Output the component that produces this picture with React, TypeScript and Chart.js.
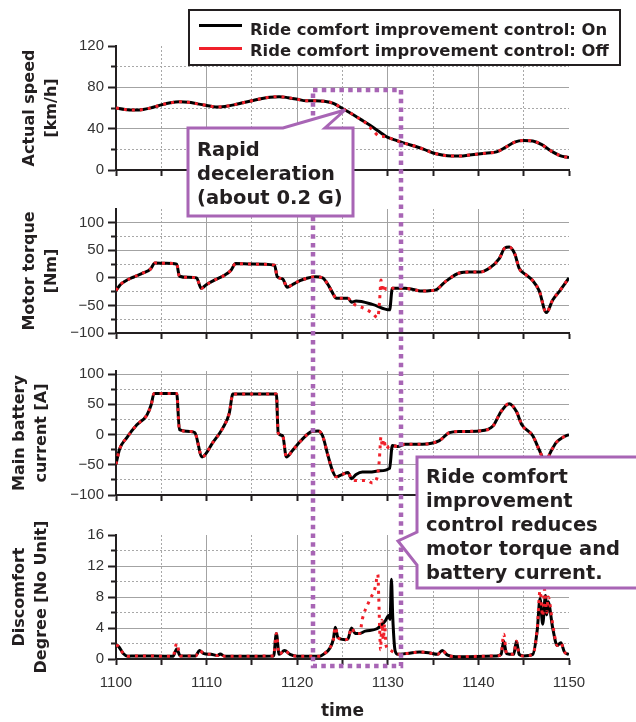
import React, { useEffect, useRef } from 'react';
import { Chart, registerables } from 'chart.js';

Chart.register(...registerables);

// ---------- axis ticks ----------
const xMajorTicks = [1100, 1110, 1120, 1130, 1140, 1150];
const xMinorTicks = [1105, 1115, 1125, 1135, 1145];

const speedTicks = [0, 40, 80, 120];
const speedMinorTicks = [20, 60, 100];
const torqueTicks = [-100, -50, 0, 50, 100];
const torqueMinorTicks = [-75, -25, 25, 75];
const batteryTicks = [-100, -50, 0, 50, 100];
const batteryMinorTicks = [-75, -25, 25, 75];
const discTicks = [0, 4, 8, 12, 16];
const discMinorTicks = [2, 6, 10, 14];

// ---------- Actual speed [km/h] ----------
const speedT = [1100, 1101, 1102, 1103, 1104, 1105, 1106, 1107, 1108, 1109, 1110, 1111, 1112, 1113, 1114, 1115, 1116, 1117, 1118, 1119, 1120, 1121, 1122, 1123, 1124, 1125, 1126, 1127, 1128, 1129, 1130, 1131, 1132, 1133, 1134, 1135, 1136, 1137, 1138, 1139, 1140, 1141, 1142, 1143, 1144, 1145, 1146, 1147, 1148, 1149, 1150];
const speedOn = [60, 58.5, 58, 58.5, 60.5, 63, 65, 66, 65.5, 64, 62.5, 61, 61.5, 63, 65, 67, 69, 70.5, 71, 70, 68.5, 67, 67, 66.5, 64.5, 59.5, 54.5, 49, 43.5, 37.5, 31.5, 28.5, 25.5, 23, 20, 16.5, 14.5, 13.5, 13.5, 14.5, 15.5, 16.5, 17.5, 22, 27, 28.5, 28, 24.5, 18.5, 14, 12];
const speedOffT = [1127.5, 1128, 1128.5, 1129, 1129.5];
const speedOffV = [46, 41.5, 37, 33, 32.5];

// ---------- Motor torque [Nm] ----------
const torqueT = [1100, 1100.5, 1101, 1102, 1103, 1103.8, 1104.3, 1105.5, 1106.7, 1107, 1108, 1108.9, 1109.4, 1110, 1111, 1112, 1112.7, 1113.2, 1115, 1117.5, 1117.8, 1118.4, 1118.9, 1119.5, 1120.3, 1121, 1122, 1122.8, 1123.5, 1124, 1124.3, 1125.6, 1126, 1126.5, 1128.3, 1130.2, 1130.5, 1131.9, 1132.8, 1133.8, 1134.8, 1135.4, 1136, 1136.5, 1137.9, 1139, 1140.1, 1141.2, 1142.3, 1142.9, 1143.4, 1144, 1144.5, 1145.3, 1146, 1146.7, 1147.5, 1148.2, 1149, 1150];
const torqueOn = [-23, -12, -6, 2, 9, 16, 27, 26.5, 25, 3, 1, 0, -19, -12, -3, 5, 14, 26, 25, 23, 2, -2, -17, -12, -5, -1, 2, 0, -15, -30, -37, -37, -44, -42, -48, -58, -19, -19, -21, -24, -23, -21, -12, -5, 9, 10.5, 10.5, 17.5, 35, 54, 56, 44, 17.5, 5, -5, -23, -63, -40, -23, 0];
const torqueOffT = [1126.4, 1127.2, 1128.2, 1128.9, 1129.1, 1129.25, 1129.4, 1129.55, 1129.8, 1130.3];
const torqueOffV = [-49, -54, -63, -72, -40, -4, -25, -12, -21, -20];

// ---------- Main battery current [A] ----------
const batT = [1100, 1100.4, 1101.2, 1102.3, 1103.4, 1103.9, 1104.2, 1106.7, 1107, 1108.2, 1108.7, 1109.5, 1110.7, 1111.8, 1112.5, 1112.9, 1117.7, 1117.9, 1118.4, 1118.8, 1119.5, 1120.3, 1121.1, 1121.6, 1122.3, 1122.8, 1123.4, 1123.9, 1124.3, 1125, 1125.6, 1126, 1126.5, 1127.2, 1128, 1129.1, 1130.2, 1130.5, 1131.1, 1131.9, 1133.8, 1135.7, 1136.8, 1138, 1140.1, 1141.6, 1142.5, 1143.4, 1144.2, 1144.8, 1146, 1146.7, 1147.4, 1148, 1148.6, 1149.3, 1150];
const batOn = [-49, -24, -5, 16, 32, 50, 68, 68, 8, 5, 3, -37, -13, 11, 35, 67, 67, 3, -2, -37, -26, -12, 0, 5, 6, -2, -35, -60, -70, -66, -63, -73, -66, -62, -62, -60, -56, -18, -20, -16, -16, -10, 3, 5, 6, 14, 38, 51, 38, 16, -2, -25, -45, -28, -13, -5, 0];
const batOffT = [1126.5, 1127.7, 1128.3, 1128.8, 1129.05, 1129.25, 1129.4, 1129.55, 1129.8, 1130.1, 1130.3];
const batOffV = [-76, -76, -80, -72, -45, -4, -20, -8, -24, -20, -19];

// ---------- Discomfort Degree ----------
const discT = [1100, 1100.3, 1100.8, 1101.3, 1102, 1106.3, 1106.7, 1107.1, 1108.8, 1109.2, 1109.7, 1110.5, 1111.2, 1111.5, 1112, 1117.4, 1117.7, 1118, 1118.6, 1119.2, 1120, 1122.5, 1123, 1123.6, 1124, 1124.2, 1124.5, 1125.3, 1125.6, 1126, 1126.4, 1126.9, 1127.5, 1128.8, 1129.7, 1130.1, 1130.25, 1130.4, 1130.55, 1130.8, 1131.1, 1132, 1133.5, 1134.5, 1135.5, 1136, 1136.6, 1137.5, 1142, 1142.5, 1142.8, 1143.1, 1143.9, 1144.2, 1144.5, 1145, 1146, 1146.5, 1146.8, 1147.1, 1147.4, 1147.55, 1147.7, 1148.2, 1148.7, 1149.1, 1149.5, 1150];
const discOn = [1.8, 1.6, 0.7, 0.35, 0.4, 0.35, 1.3, 0.4, 0.4, 1.1, 0.7, 0.6, 0.45, 0.65, 0.35, 0.4, 3.3, 0.6, 1.1, 0.6, 0.35, 0.35, 0.7, 1.4, 2.6, 4.1, 2.75, 2.5, 2.6, 4, 3.3, 3.3, 3.6, 3.9, 4.9, 5.6, 5.1, 10.3, 5.3, 1.1, 0.6, 0.7, 0.9, 0.8, 0.6, 1.1, 0.5, 0.3, 0.4, 0.6, 2.3, 0.7, 0.6, 2.3, 0.6, 0.4, 0.6, 3.8, 7.8, 4.5, 8.2, 5.7, 7.4, 4, 1.75, 2.1, 0.9, 0.6];
const discOffT1 = [1106.3, 1106.7, 1107.1];
const discOffV1 = [0.35, 2.0, 0.4];
const discOffT2 = [1126.9, 1127.2, 1128, 1128.6, 1128.9, 1129, 1129.1, 1129.2, 1129.35, 1129.5, 1129.65, 1129.8, 1130.1, 1130.6, 1131.1];
const discOffV2 = [3.3, 5.2, 7.6, 9.2, 10.9, 8, 4, 1.2, 5, 2.5, 4.5, 1.8, 1.3, 0.9, 0.6];
const discOffT3 = [1142.5, 1142.8, 1143.1];
const discOffV3 = [0.6, 3.2, 0.7];
const discOffT4 = [1146.5, 1146.8, 1147.1, 1147.3, 1147.55, 1147.7, 1148.2];
const discOffV4 = [4, 8.8, 5.5, 9, 6, 8, 4.5];

const legendLabels = ['Ride comfort improvement control: On', 'Ride comfort improvement control: Off'];
const callout1Lines = ['Rapid', 'deceleration', '(about 0.2 G)'];
const callout2Lines = ['Ride comfort', 'improvement', 'control reduces', 'motor torque and', 'battery current.'];

// ---------- styling ----------
const RED = '#f0202a';
const PURPLE = '#a865b5';
const AXIS = '#231f20';
const TEXT = '#231f20';
const GRID_MAJOR = '#a3a3a3';
const GRID_MINOR = '#a8a8a8';
const CLEAR = 'rgba(0,0,0,0)';

type Pt = { x: number; y: number };
const pts = (t: number[], v: number[]): Pt[] => t.map((x, i) => ({ x, y: v[i] }));
function patched(t: number[], v: number[], patches: [number[], number[]][]): Pt[] {
  let out = pts(t, v);
  for (const [pt, pv] of patches) {
    const a = pt[0];
    const b = pt[pt.length - 1];
    out = out.filter((p) => p.x < a || p.x > b).concat(pts(pt, pv));
  }
  return out.sort((p, q) => p.x - q.x);
}

type Panel = {
  on: Pt[];
  off: Pt[];
  min: number;
  max: number;
  major: number[];
  minor: number[];
  title: string[];
  titlePad: number;
  showX: boolean;
  top: number;
  height: number;
};

const panels: Panel[] = [
  {
    on: pts(speedT, speedOn),
    off: patched(speedT, speedOn, [[speedOffT, speedOffV]]),
    min: 0, max: 120, major: speedTicks, minor: speedMinorTicks,
    title: ['Actual speed', '[km/h]'], titlePad: 19, showX: false, top: 33, height: 150,
  },
  {
    on: pts(torqueT, torqueOn),
    off: patched(torqueT, torqueOn, [[torqueOffT, torqueOffV]]),
    min: -100, max: 125, major: torqueTicks, minor: torqueMinorTicks,
    title: ['Motor torque', '[Nm]'], titlePad: 19, showX: false, top: 196, height: 150,
  },
  {
    on: pts(batT, batOn),
    off: patched(batT, batOn, [[batOffT, batOffV]]),
    min: -100, max: 105, major: batteryTicks, minor: batteryMinorTicks,
    title: ['Main battery', 'current [A]'], titlePad: 9, showX: false, top: 358, height: 150,
  },
  {
    on: pts(discT, discOn),
    off: patched(discT, discOn, [[discOffT1, discOffV1], [discOffT2, discOffV2], [discOffT3, discOffV3], [discOffT4, discOffV4]]),
    min: 0, max: 16, major: discTicks, minor: discMinorTicks,
    title: ['Discomfort', 'Degree [No Unit]'], titlePad: 9, showX: true, top: 522, height: 200,
  },
];

const tickFont = { family: 'Liberation Sans', size: 15 };
const fmt = (v: number) => (v < 0 ? '\u2212' + Math.abs(v) : String(v));

function makeConfig(p: Panel): any {
  return {
    type: 'line',
    data: {
      datasets: [
        {
          label: legendLabels[0], data: p.on, borderColor: '#000', borderWidth: 3,
          pointRadius: 0, cubicInterpolationMode: 'monotone', order: 1, xAxisID: 'x', yAxisID: 'y',
        },
        {
          label: legendLabels[1], data: p.off, borderColor: RED, borderWidth: 3, borderDash: [3, 5],
          pointRadius: 0, cubicInterpolationMode: 'monotone', order: 0, xAxisID: 'x', yAxisID: 'y',
        },
      ],
    },
    options: {
      responsive: false,
      animation: false,
      events: [],
      layout: { padding: { top: 10, right: 67, left: 0, bottom: 0 } },
      plugins: { legend: { display: false }, tooltip: { enabled: false } },
      scales: {
        x: {
          type: 'linear', position: 'bottom', weight: 1, min: 1100, max: 1150, bounds: 'data',
          afterBuildTicks: (s: any) => { s.ticks = xMajorTicks.map((value) => ({ value })); },
          afterFit: (s: any) => { s.height = p.showX ? 63 : 12; },
          ticks: {
            display: p.showX, font: tickFont, color: '#333', padding: 9, maxRotation: 0, autoSkip: false,
            callback: (v: any) => String(v),
          },
          grid: {
            color: (c: any) => (c.tick && (c.tick.value === 1100 || c.tick.value === 1150) ? CLEAR : GRID_MAJOR),
            lineWidth: 1, drawTicks: true, tickLength: 6, tickColor: AXIS, tickWidth: 2,
          },
          border: { display: true, color: AXIS, width: 2 },
          title: {
            display: p.showX, text: 'time', color: TEXT,
            font: { family: 'DejaVu Sans', weight: 'bold', size: 17 }, padding: { top: 0, bottom: 0 },
          },
        },
        x2: {
          type: 'linear', position: 'bottom', weight: 0, min: 1100, max: 1150, bounds: 'data',
          afterBuildTicks: (s: any) => { s.ticks = xMinorTicks.map((value) => ({ value })); },
          afterFit: (s: any) => { s.height = 0; },
          ticks: { display: false },
          grid: { color: GRID_MINOR, lineWidth: 1, drawTicks: true, tickLength: 6, tickColor: AXIS, tickWidth: 2 },
          border: { display: false, dash: [2, 2] },
        },
        y: {
          type: 'linear', position: 'left', weight: 1, min: p.min, max: p.max, bounds: 'data',
          afterBuildTicks: (s: any) => { s.ticks = p.major.map((value) => ({ value })); },
          afterFit: (s: any) => { s.width = 116; },
          ticks: { font: tickFont, color: '#333', padding: 4, callback: (v: any) => fmt(Number(v)) },
          grid: {
            color: (c: any) => (c.tick && (c.tick.value === p.min || c.tick.value === p.max) ? CLEAR : GRID_MAJOR),
            lineWidth: 1, drawTicks: true, tickLength: 8, tickColor: AXIS, tickWidth: 2,
          },
          border: { display: true, color: AXIS, width: 2 },
          title: {
            display: true, text: p.title, color: TEXT,
            font: { family: 'DejaVu Sans', weight: 'bold', size: 16, lineHeight: 1.375 },
            padding: { top: p.titlePad, bottom: 0 },
          },
        },
        y2: {
          type: 'linear', position: 'left', weight: 0, min: p.min, max: p.max, bounds: 'data',
          afterBuildTicks: (s: any) => { s.ticks = p.minor.map((value) => ({ value })); },
          afterFit: (s: any) => { s.width = 0; },
          ticks: { display: false },
          grid: { color: GRID_MINOR, lineWidth: 1, drawTicks: true, tickLength: 5, tickColor: AXIS, tickWidth: 2 },
          border: { display: false, dash: [2, 2] },
        },
      },
    },
  };
}

export default function App() {
  const r0 = useRef<HTMLCanvasElement>(null);
  const r1 = useRef<HTMLCanvasElement>(null);
  const r2 = useRef<HTMLCanvasElement>(null);
  const r3 = useRef<HTMLCanvasElement>(null);
  const refs = [r0, r1, r2, r3];

  useEffect(() => {
    const charts = panels.map((p, i) => new Chart(refs[i].current as HTMLCanvasElement, makeConfig(p)));
    return () => charts.forEach((c) => c.destroy());
  }, []);

  const boldText = (size: number, lh: number): React.CSSProperties => ({
    position: 'absolute', fontFamily: '"DejaVu Sans", sans-serif', fontWeight: 'bold',
    fontSize: size, lineHeight: lh + 'px', color: TEXT, whiteSpace: 'pre',
  });

  return (
    <div style={{ position: 'absolute', left: 0, top: 0, width: 636, height: 722, overflow: 'hidden', background: '#fff' }}>
      {panels.map((p, i) => (
        <canvas key={i} ref={refs[i]} width={636} height={p.height}
          style={{ position: 'absolute', left: 0, top: p.top, width: 636, height: p.height }} />
      ))}
      <svg width={636} height={722} style={{ position: 'absolute', left: 0, top: 0 }}>
        <rect x={313} y={90} width={88} height={576} fill="none" stroke={PURPLE} strokeWidth={4.5} strokeDasharray="4.5 4.3" />
        <path d="M188 128 L283 128 L345 110 L325 128 L353 128 L353 216 L188 216 Z" fill="#fff" stroke={PURPLE} strokeWidth={3} strokeLinejoin="miter" />
        <path d="M417 457 L644 457 L644 588 L417 588 L417 565 L398 541 L417 532 Z" fill="#fff" stroke={PURPLE} strokeWidth={3} strokeLinejoin="miter" />
      </svg>
      <div style={{ ...boldText(19.5, 24), left: 197, top: 138 }}>{callout1Lines.join('\n')}</div>
      <div style={{ ...boldText(19.5, 24), left: 426, top: 465 }}>{callout2Lines.join('\n')}</div>

      <div style={{ position: 'absolute', left: 188, top: 9, width: 433, height: 57, boxSizing: 'border-box', border: '2px solid ' + AXIS, background: '#fff' }} />
      <div style={{ position: 'absolute', left: 199, top: 23.5, width: 43, height: 3, background: '#000' }} />
      <div style={{ position: 'absolute', left: 199, top: 46.5, width: 43, height: 3, background: RED }} />
      <div style={{ ...boldText(16.4, 21), left: 250, top: 19 }}>{legendLabels[0]}</div>
      <div style={{ ...boldText(16.4, 21), left: 250, top: 40 }}>{legendLabels[1]}</div>
    </div>
  );
}
